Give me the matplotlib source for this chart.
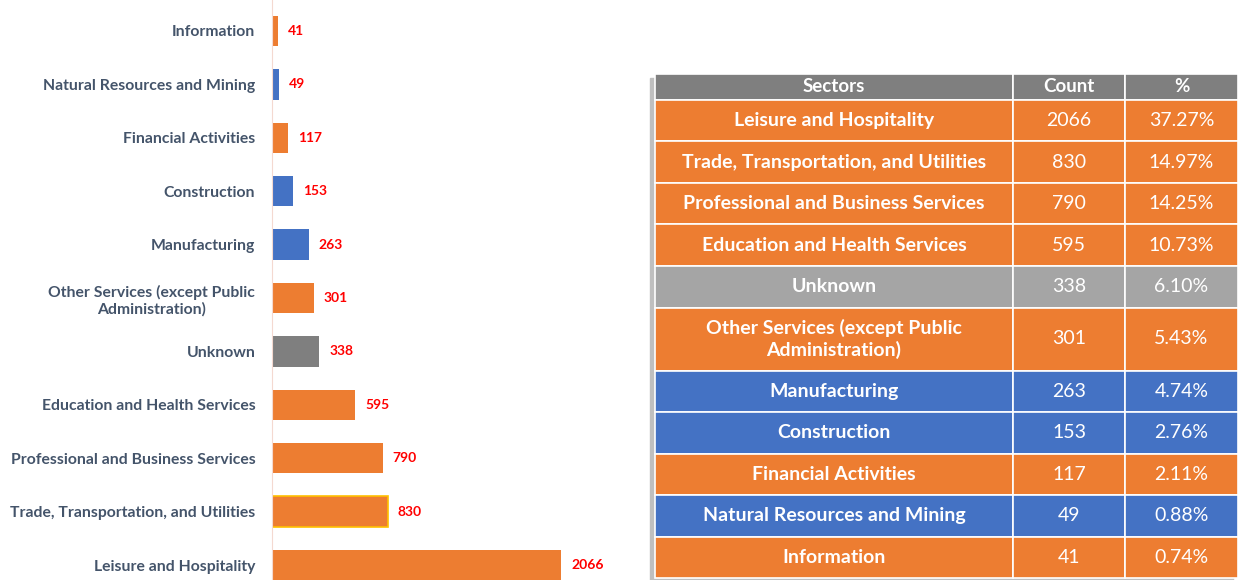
import matplotlib.pyplot as plt

plt.rcParams['font.family'] = ['Lato', 'DejaVu Sans']

# data, largest first
sectors = ["Leisure and Hospitality", "Trade, Transportation, and Utilities",
           "Professional and Business Services", "Education and Health Services",
           "Unknown", "Other Services (except Public\nAdministration)",
           "Manufacturing", "Construction", "Financial Activities",
           "Natural Resources and Mining", "Information"]
counts = [2066, 830, 790, 595, 338, 301, 263, 153, 117, 49, 41]
pcts = ["37.27%", "14.97%", "14.25%", "10.73%", "6.10%", "5.43%",
        "4.74%", "2.76%", "2.11%", "0.88%", "0.74%"]
groups = ["o", "o", "o", "o", "u", "o", "b", "b", "o", "b", "o"]

orange = "#ED7D31"
blue = "#4472C4"
bar_col = {"o": orange, "b": blue, "u": "#7F7F7F"}
tab_col = {"o": orange, "b": blue, "u": "#A5A5A5"}

fig = plt.figure(figsize=(12.38, 5.8), dpi=100)

# bar chart
ax = fig.add_axes([272/1238, 0, 350/1238, 1])
ypos = list(range(len(sectors)))
bars = ax.barh(ypos, counts, height=0.57,
               color=[bar_col[g] for g in groups])
bars[1].set_edgecolor("#FFC000")
bars[1].set_linewidth(1.2)
ax.bar_label(bars, padding=7, color="#FF0000", fontsize=10, fontweight="bold")
ax.set_xlim(0, 2500)
ax.set_ylim(-0.28, 10.58)
ax.set_yticks(ypos)
ax.set_yticklabels(sectors, fontsize=11.3, fontweight="bold", color="#44546A",
                   multialignment="center")
ax.tick_params(axis="y", length=0, pad=12)
ax.set_xticks([])
for s in ["top", "right", "bottom"]:
    ax.spines[s].set_visible(False)
ax.spines["left"].set_color("#F4D9D0")

# table
tx = fig.add_axes([655/1238, 2/580, 583/1238, 504/580])
tx.axis("off")
tx.add_patch(plt.Rectangle((-0.008, -0.008), 1.0, 1.0, color="#BFBFBF",
                           transform=tx.transAxes, clip_on=False, zorder=0))
cells = [[s, str(c), p] for s, c, p in zip(sectors, counts, pcts)]
colours = [[tab_col[g]] * 3 for g in groups]
tab = tx.table(cellText=cells, colLabels=["Sectors", "Count", "%"],
               cellColours=colours, colWidths=[358, 112, 113],
               cellLoc="center", bbox=[0, 0, 1, 1])
tab.auto_set_font_size(False)
for (r, c), cell in tab.get_celld().items():
    cell.set_edgecolor("white")
    cell.set_linewidth(1.2)
    txt = cell.get_text()
    txt.set_color("white")
    if r == 0:
        cell.set_facecolor("#7F7F7F")
        cell.set_height(26)
        txt.set_fontsize(13.5)
        txt.set_fontweight("bold")
    else:
        cell.set_height(63 if "\n" in sectors[r-1] else 41.5)
        txt.set_fontsize(14)
        if c == 0:
            txt.set_fontweight("bold")

fig.savefig("out.png", dpi=100)
